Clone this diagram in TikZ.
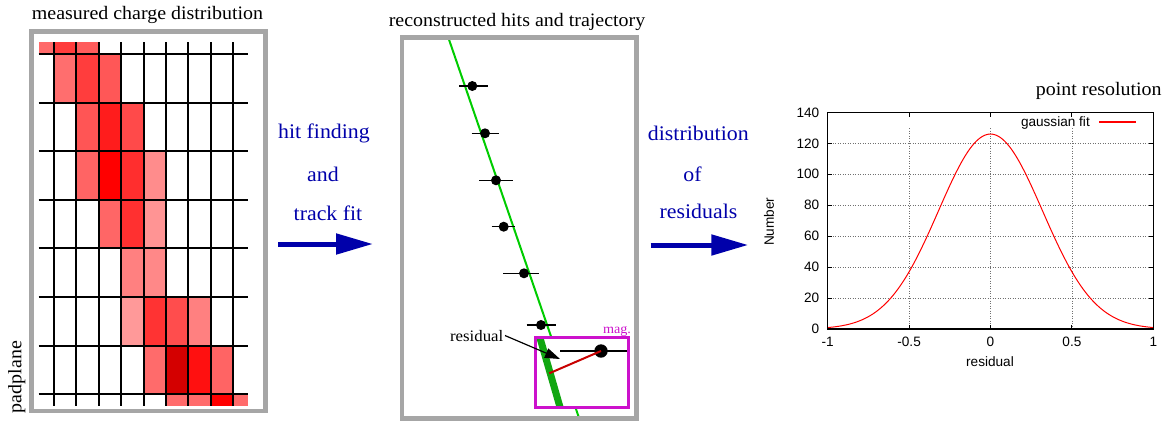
\documentclass[tikz,border=0pt]{standalone}
\usepackage{fontspec}
\setmainfont[FakeStretch=1.05]{Liberation Serif}
\setsansfont{Liberation Sans}
\usetikzlibrary{arrows.meta}
\definecolor{framegray}{HTML}{A6A6A6}
\definecolor{flowblue}{HTML}{0000AA}
\definecolor{trackgreen}{HTML}{00CC00}
\definecolor{bandgreen}{HTML}{11A611}
\definecolor{magbox}{HTML}{CC11CC}
\definecolor{residred}{HTML}{C80000}
\definecolor{gridgray}{HTML}{707070}
\definecolor{fitred}{HTML}{FF0000}
\begin{document}
\begin{tikzpicture}[x=1pt,y=-1pt,
  frame/.style={draw=framegray,line width=4.5pt},
  titletext/.style={font=\fontsize{19}{22}\selectfont, anchor=base, inner sep=0pt},
  flowtext/.style={font=\fontsize{20.8}{24}\selectfont, text=flowblue, anchor=base, inner sep=0pt},
  flowarrow/.style={draw=flowblue, line width=5pt, -{Triangle[length=37pt,width=20pt]}},
  padline/.style={line width=2pt, black},
  hit/.style={circle, fill=black, inner sep=0pt, minimum size=10pt},
  errbar/.style={line width=1.5pt},
  ticklabel/.style={font=\sffamily\fontsize{13.6}{16}\selectfont, inner sep=0pt},
  gridline/.style={gridgray, line width=0.6pt, dash pattern=on 1pt off 1.5pt},
  tickmark/.style={line width=1pt},
  fitline/.style={draw=fitred, line width=1pt},
]
\useasboundingbox (0,0) rectangle (1171,424);

% ---------------- left panel: padplane ----------------
\node[titletext] (ttl1) at (147.5,19) {measured charge distribution};
\node[font=\fontsize{19}{22}\selectfont, rotate=90, inner sep=0pt] (pad) at (16.7,377) {padplane};

% cells
\fill[fill={rgb,255:red,255;green,106;blue,106}] (38.7,42) rectangle (53.7,54);
\fill[fill={rgb,255:red,255;green,60;blue,60}] (53.7,42) rectangle (76.3,54);
\fill[fill={rgb,255:red,255;green,92;blue,92}] (76.3,42) rectangle (98.7,54);
\fill[fill={rgb,255:red,255;green,110;blue,110}] (53.7,54) rectangle (76.3,102.7);
\fill[fill={rgb,255:red,255;green,61;blue,61}] (76.3,54) rectangle (98.7,102.7);
\fill[fill={rgb,255:red,255;green,87;blue,87}] (98.7,54) rectangle (121,102.7);
\fill[fill={rgb,255:red,255;green,85;blue,85}] (76.3,102.7) rectangle (98.7,151.3);
\fill[fill={rgb,255:red,255;green,28;blue,28}] (98.7,102.7) rectangle (121,151.3);
\fill[fill={rgb,255:red,255;green,74;blue,74}] (121,102.7) rectangle (143.7,151.3);
\fill[fill={rgb,255:red,255;green,100;blue,100}] (76.3,151.3) rectangle (98.7,200);
\fill[fill={rgb,255:red,255;green,0;blue,0}] (98.7,151.3) rectangle (121,200);
\fill[fill={rgb,255:red,255;green,46;blue,46}] (121,151.3) rectangle (143.7,200);
\fill[fill={rgb,255:red,255;green,140;blue,140}] (143.7,151.3) rectangle (166,200);
\fill[fill={rgb,255:red,255;green,102;blue,102}] (98.7,200) rectangle (121,248.3);
\fill[fill={rgb,255:red,255;green,48;blue,48}] (121,200) rectangle (143.7,248.3);
\fill[fill={rgb,255:red,255;green,148;blue,148}] (143.7,200) rectangle (166,248.3);
\fill[fill={rgb,255:red,255;green,128;blue,128}] (121,248.3) rectangle (143.7,297);
\fill[fill={rgb,255:red,255;green,136;blue,136}] (143.7,248.3) rectangle (166,297);
\fill[fill={rgb,255:red,255;green,153;blue,153}] (121,297) rectangle (143.7,345.7);
\fill[fill={rgb,255:red,255;green,51;blue,51}] (143.7,297) rectangle (166,345.7);
\fill[fill={rgb,255:red,255;green,77;blue,77}] (166,297) rectangle (188.3,345.7);
\fill[fill={rgb,255:red,255;green,128;blue,128}] (188.3,297) rectangle (210.7,345.7);
\fill[fill={rgb,255:red,255;green,107;blue,107}] (143.7,345.7) rectangle (166,394);
\fill[fill={rgb,255:red,212;green,0;blue,0}] (166,345.7) rectangle (188.3,394);
\fill[fill={rgb,255:red,255;green,16;blue,16}] (188.3,345.7) rectangle (210.7,394);
\fill[fill={rgb,255:red,255;green,100;blue,100}] (210.7,345.7) rectangle (232.7,394);
\fill[fill={rgb,255:red,255;green,107;blue,107}] (166,394) rectangle (188.3,405.7);
\fill[fill={rgb,255:red,255;green,107;blue,107}] (188.3,394) rectangle (210.7,405.7);
\fill[fill={rgb,255:red,255;green,0;blue,0}] (210.7,394) rectangle (232.7,405.7);
\fill[fill={rgb,255:red,255;green,107;blue,107}] (232.7,394) rectangle (248.3,405.7);

% pad grid
\foreach \cx in {53.7,76.3,98.7,121,143.7,166,188.3,210.7,232.7}
  \draw[padline] (\cx,42) -- (\cx,405.7);
\foreach \ry in {54,102.7,151.3,200,248.3,297,345.7,394}
  \draw[padline] (38.7,\ry) -- (248.3,\ry);

\draw[frame] (31.5,31.5) rectangle (265.5,411);

% ---------------- arrow 1 ----------------
\node[flowtext] (f1a) at (324,138) {hit finding};
\node[flowtext] (f1b) at (323,181) {and};
\node[flowtext] (f1c) at (328,220) {track fit};
\coordinate (a1s) at (278,244);
\coordinate (a1e) at (373,244);
\draw[flowarrow] (a1s) -- (a1e);

% ---------------- middle panel ----------------
\node[titletext] (ttl2) at (517,26.2) {reconstructed hits and trajectory};
\coordinate (trktop) at (448.3,37.5);
\coordinate (trkbot) at (579.3,418.7);
\draw[trackgreen, line width=2pt] (trktop) -- (trkbot);

\foreach \hx/\hy/\la/\lb [count=\k] in {472.3/86/459/487.7, 485/133.3/471.7/498.7, 496/180.3/479.3/512.7, 503.7/226.7/491.7/515.3, 524/273.3/503.3/539.3, 541/325/526.7/555.7}{
  \coordinate (eL\k) at (\la,\hy);
  \coordinate (eR\k) at (\lb,\hy);
  \draw[errbar] (eL\k) -- (eR\k);
  \node[hit] (h\k) at (\hx,\hy) {};
}

% magnifier
\fill[white] (535.3,337.3) rectangle (628.7,407.3);
\begin{scope}
  \clip (535.3,337.3) rectangle (628.7,407.3);
  \draw[bandgreen, line width=7pt] (537.7,330) -- (562,414);
\end{scope}
\coordinate (bigL) at (560,351);
\coordinate (bigR) at (627.3,351);
\draw[line width=2.7pt] (bigL) -- (bigR);
\node[circle, fill=black, inner sep=0pt, minimum size=13.4pt] (big) at (601,351) {};
\coordinate (resfoot) at (549.3,373.3);
\draw[residred, line width=2pt] (big.center) -- (resfoot);
\draw[magbox, line width=2.7pt] (535.3,337.3) rectangle (628.7,407.3);
\node[font=\fontsize{13.5}{15}\selectfont, text=magbox, anchor=base, inner sep=0pt] (mag) at (617,333) {mag.};

\node[font=\fontsize{16}{18}\selectfont, anchor=base, inner sep=1.5pt] (res) at (476.7,341) {residual};
\coordinate (restip) at (560,359);
\draw[line width=1.2pt, -{Triangle[length=15pt,width=10pt]}] (res.east) -- (restip);

\draw[frame] (401.8,37.5) rectangle (636.5,418.7);

% ---------------- arrow 2 ----------------
\node[flowtext] (f2a) at (698.3,140.7) {distribution};
\node[flowtext] (f2b) at (692.5,181.7) {of};
\node[flowtext] (f2c) at (698.5,218.3) {residuals};
\coordinate (a2s) at (650.7,245);
\coordinate (a2e) at (748.3,245);
\draw[flowarrow] (a2s) -- (a2e);

% ---------------- plot ----------------
\node[titletext] (ttl3) at (1098.8,95.5) {point resolution};

\foreach \v in {20,40,...,120}
  \draw[gridline] (827.7,{329-1.5471*\v}) -- (1153.3,{329-1.5471*\v});
\foreach \v in {-0.5,0,0.5}
  \draw[gridline] ({990.5+162.8*\v},128) -- ({990.5+162.8*\v},329);

\foreach \v in {20,40,...,120}{
  \draw[tickmark] (827.7,{329-1.5471*\v}) -- (832,{329-1.5471*\v});
  \draw[tickmark] (1153.3,{329-1.5471*\v}) -- (1149,{329-1.5471*\v});
}
\foreach \v in {-0.5,0,0.5}{
  \draw[tickmark] ({990.5+162.8*\v},329) -- ({990.5+162.8*\v},325);
  \draw[tickmark] ({990.5+162.8*\v},112.7) -- ({990.5+162.8*\v},117);
}

\draw[fitline] plot[domain=-1:1, samples=161, smooth] ({990.5+162.8*\x}, {329-194.9*exp(-(\x*\x)/0.204)});

\draw[line width=1.3pt] (827.7,112.7) rectangle (1153.3,329);

\foreach \v [count=\k] in {0,20,...,140}
  \node[ticklabel, anchor=east] (yl\k) at (819.5,{329-1.5471*\v}) {\v};
\foreach \v/\lab [count=\k] in {-1/-1,-0.5/-0.5,0/0,0.5/0.5,1/1}
  \node[ticklabel] (xl\k) at ({990.5+162.8*\v},341.7) {\lab};

\node[ticklabel, rotate=90] (ylab) at (769,221.7) {Number};
\node[ticklabel] (xlab) at (990,362) {residual};

\node[ticklabel, anchor=east] (leg) at (1090,122.7) {gaussian fit};
\coordinate (legL) at (1099.3,122);
\coordinate (legR) at (1136,122);
\draw[fitline, line width=1.5pt] (legL) -- (legR);
\end{tikzpicture}
\end{document}
